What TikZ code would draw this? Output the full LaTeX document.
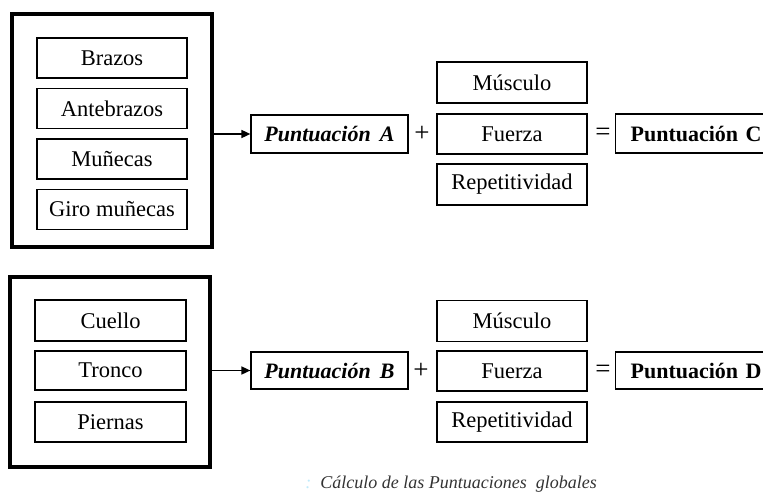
\documentclass[tikz,border=0pt]{standalone}
\usepackage{fontspec}
\setmainfont{Liberation Serif}
\usetikzlibrary{arrows.meta}
\tikzset{
  outer/.style={draw, line width=3.2pt, fill=none},
  item/.style={draw, line width=1.2pt, minimum width=150pt, minimum height=40pt, inner sep=0pt, font=\fontsize{22.5}{26}\selectfont},
  score/.style={draw, line width=1.2pt, minimum width=157pt, minimum height=38pt, inner sep=0pt, font=\fontsize{22}{26}\selectfont\bfseries\itshape},
  result/.style={draw, line width=1.2pt, anchor=west, minimum height=39pt, text width=160pt, align=left, inner xsep=15pt, inner ysep=0pt, font=\fontsize{22}{26}\selectfont\bfseries},
  op/.style={inner sep=0pt, font=\fontsize{27}{30}\selectfont},
  conn/.style={line width=1.6pt, -{Triangle[length=9pt,width=8pt]}},
}
\begin{document}
\begin{tikzpicture}[x=1pt,y=-1pt]
\useasboundingbox (0,0) rectangle (763,495);
% top group
\node[outer, minimum width=200pt, minimum height=233pt] (boxA) at (112,130.5) {};
\node[item] (brazos) at (112,58) {Brazos};
\node[item] (antebrazos) at (112,108.5) {Antebrazos};
\node[item] (munecas) at (112,159) {Muñecas};
\node[item] (giro) at (112,209.5) {Giro muñecas};
\node[score] (pA) at (329.5,134) {Puntuación\, A};
\node[op] (plusA) at (422,134) {+};
\node[item, minimum height=41pt] (musA) at (512,82.5) {Músculo};
\node[item] (fueA) at (512,134) {Fuerza};
\node[item, minimum height=41pt] (repA) at (512,184.5) {Repetitividad};
\node[op] (eqA) at (603,134) {=};
\node[result] (pC) at (615,133.5) {Puntuación C};
\draw[conn] (boxA.east |- pA.west) -- (pA.west);
% bottom group
\node[outer, minimum width=200pt, minimum height=190pt] (boxB) at (110,372) {};
\node[item, minimum width=151pt, minimum height=41pt] (cuello) at (110.5,320.5) {Cuello};
\node[item, minimum width=151pt, minimum height=39pt] (tronco) at (110.5,370.5) {Tronco};
\node[item, minimum width=151pt] (piernas) at (110.5,422) {Piernas};
\node[score, minimum height=37pt] (pB) at (329.5,370.5) {Puntuación\, B};
\node[op] (plusB) at (421,371) {+};
\node[item, minimum height=41pt] (musB) at (512,321) {Músculo};
\node[item] (fueB) at (512,371) {Fuerza};
\node[item] (repB) at (512,422) {Repetitividad};
\node[op] (eqB) at (603,371) {=};
\node[result, minimum height=37pt] (pD) at (615,370.5) {Puntuación D};
\draw[conn] (boxB.east |- pB.west) -- (pB.west);
% caption
\node[inner sep=0pt, font=\fontsize{18}{22}\selectfont\itshape, text=black!80] (cap) at (451,484) {\textcolor{cyan!25}{:}\, Cálculo de las Puntuaciones\ \ globales};
\end{tikzpicture}
\end{document}
